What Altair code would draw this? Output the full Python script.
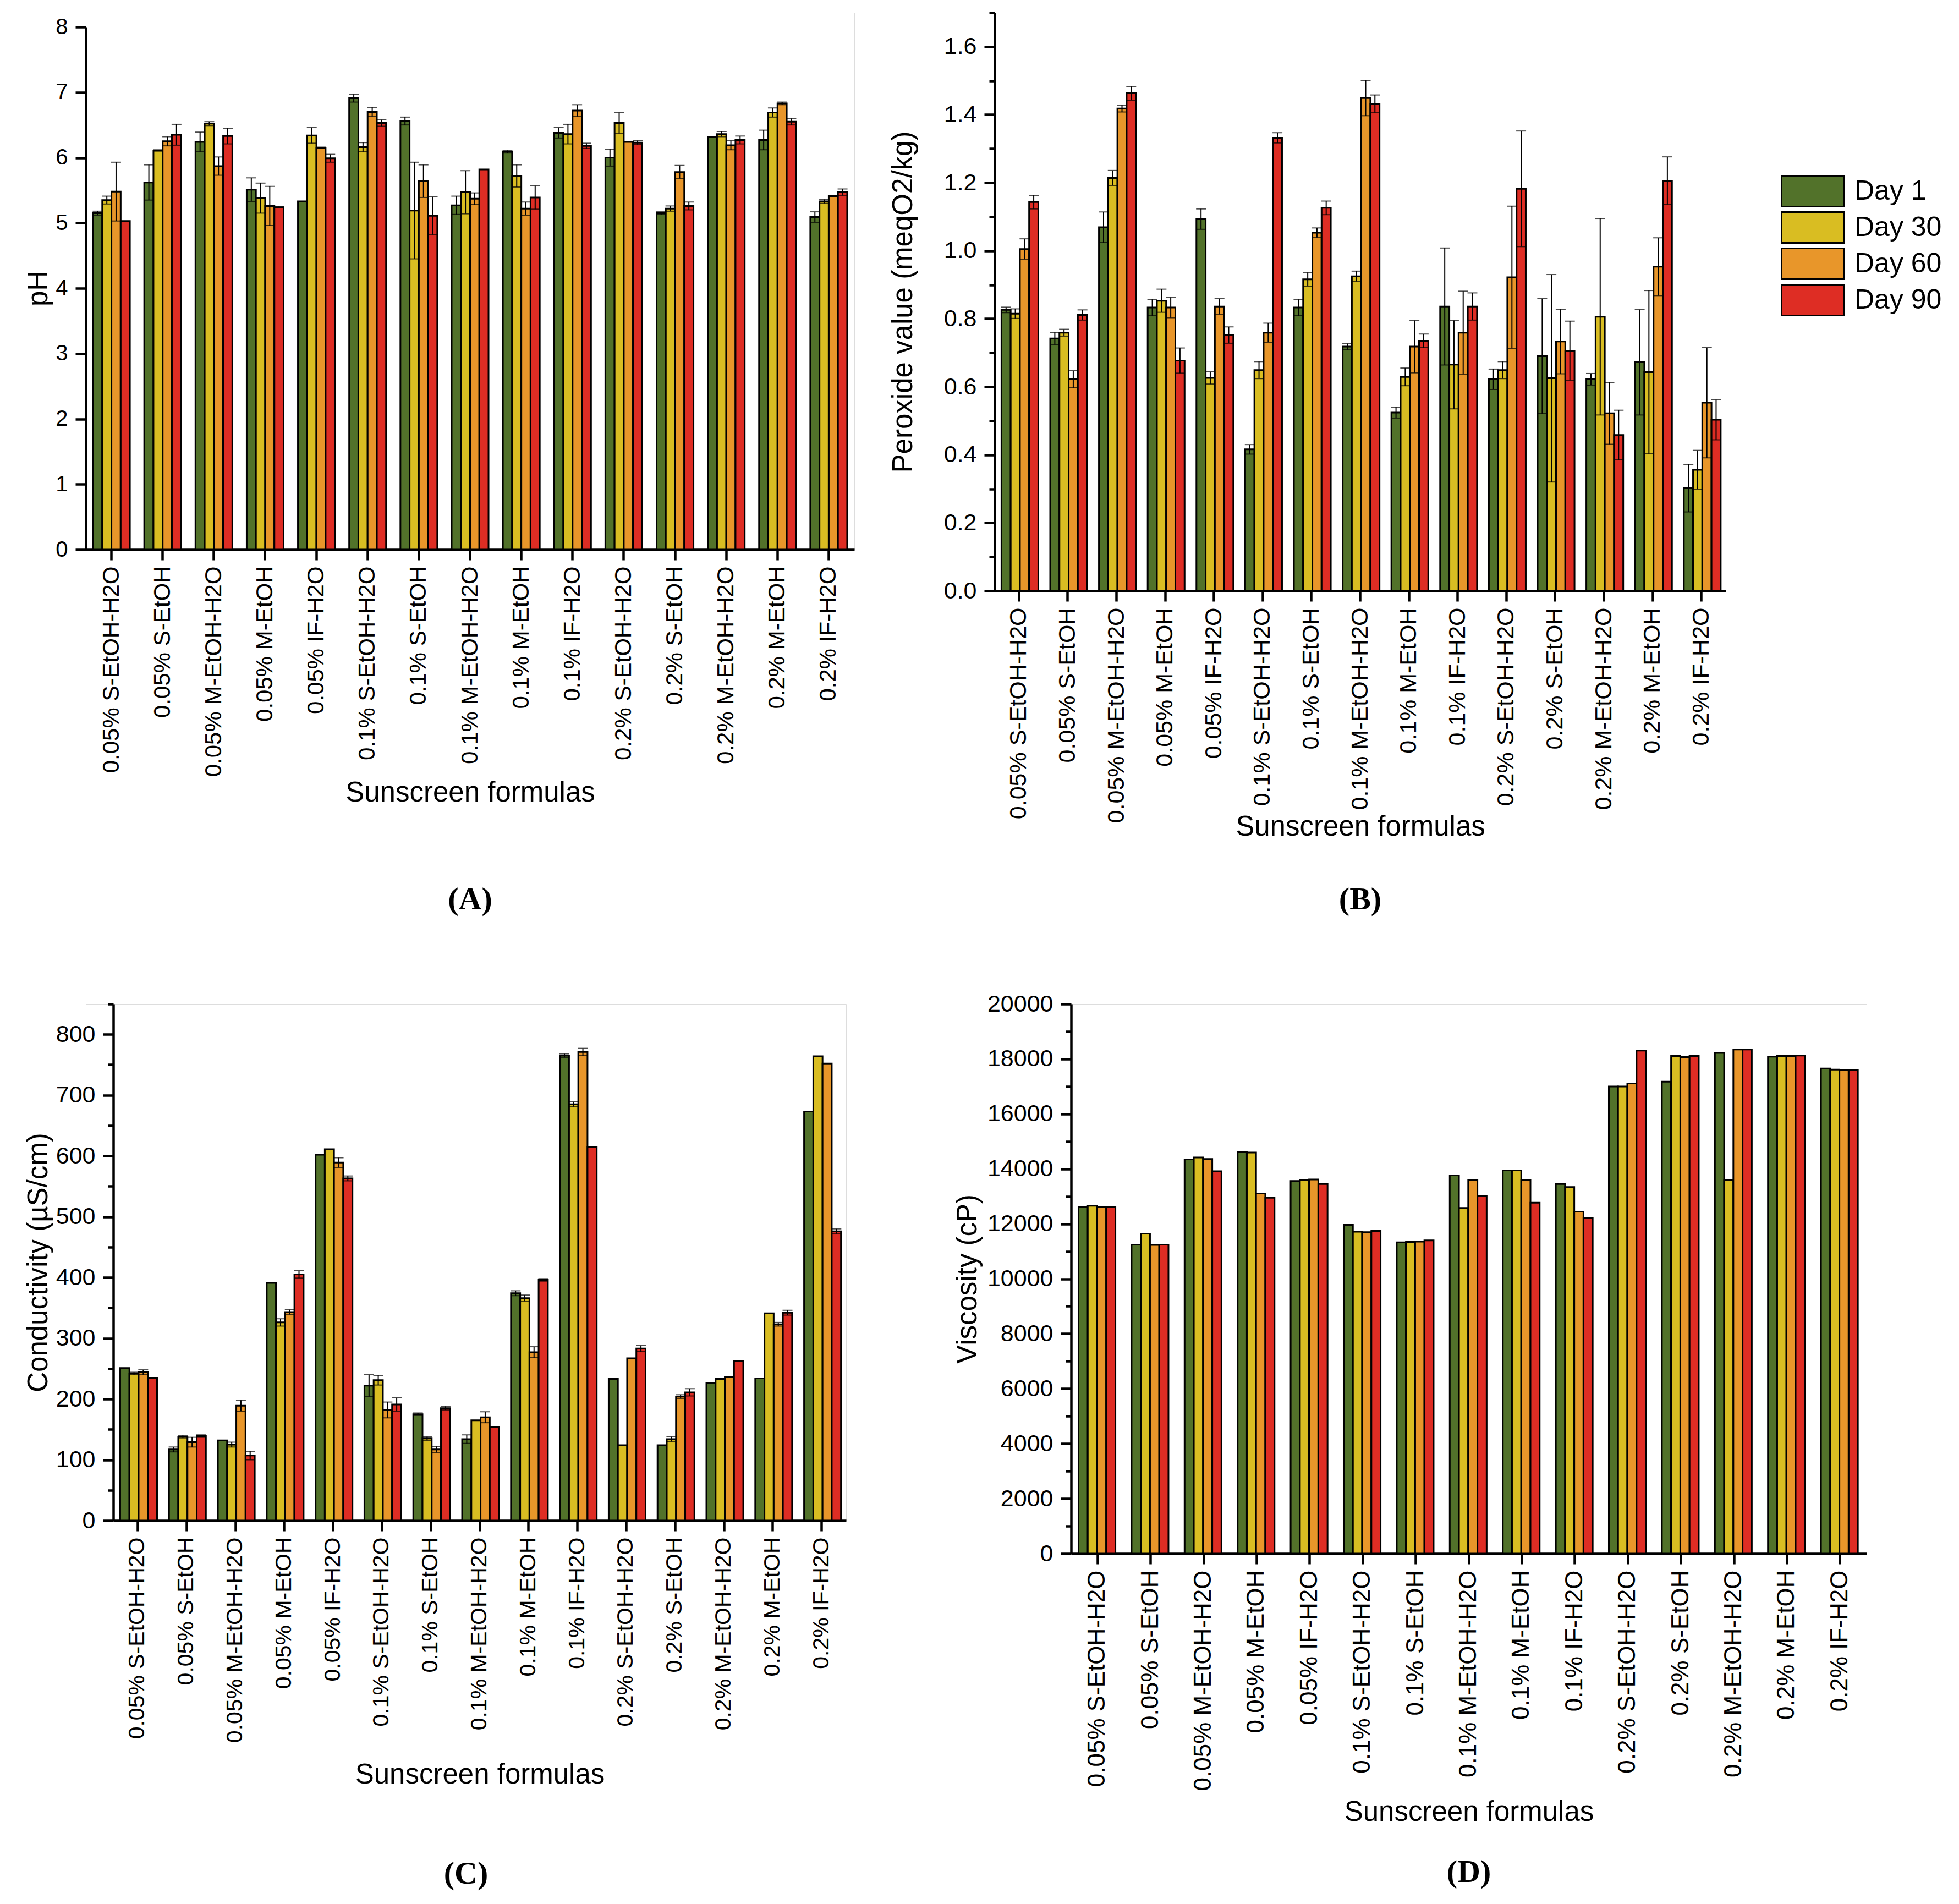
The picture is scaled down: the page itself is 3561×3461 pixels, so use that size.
import altair as alt
import pandas as pd

# -----------------------------------------------------------------------------
# DATA
# -----------------------------------------------------------------------------

formulas = [
    "0.05% S-EtOH-H2O", "0.05% S-EtOH", "0.05% M-EtOH-H2O", "0.05% M-EtOH", "0.05% IF-H2O",
    "0.1% S-EtOH-H2O", "0.1% S-EtOH", "0.1% M-EtOH-H2O", "0.1% M-EtOH", "0.1% IF-H2O",
    "0.2% S-EtOH-H2O", "0.2% S-EtOH", "0.2% M-EtOH-H2O", "0.2% M-EtOH", "0.2% IF-H2O",
]
days = ["Day 1", "Day 30", "Day 60", "Day 90"]
day_colors = ["#52722a", "#d9bd22", "#e8962a", "#de2d24"]

# (A) pH
ph_day1 = [5.15, 5.62, 6.24, 5.51, 5.33, 6.91, 6.56, 5.27, 6.09, 6.38, 6.00, 5.15, 6.32, 6.27, 5.09]
ph_day30 = [5.35, 6.11, 6.52, 5.38, 6.34, 6.16, 5.19, 5.47, 5.72, 6.36, 6.53, 5.22, 6.36, 6.69, 5.33]
ph_day60 = [5.48, 6.25, 5.87, 5.26, 6.15, 6.70, 5.64, 5.37, 5.22, 6.72, 6.24, 5.78, 6.19, 6.83, 5.41]
ph_day90 = [5.03, 6.35, 6.33, 5.24, 5.99, 6.53, 5.11, 5.82, 5.39, 6.18, 6.23, 5.26, 6.27, 6.55, 5.47]
ph_err1 = [0.03, 0.27, 0.15, 0.18, 0.0, 0.06, 0.06, 0.14, 0.02, 0.08, 0.13, 0.02, 0.0, 0.15, 0.08]
ph_err30 = [0.06, 0.01, 0.03, 0.23, 0.12, 0.07, 0.74, 0.33, 0.17, 0.15, 0.16, 0.04, 0.04, 0.07, 0.03]
ph_err60 = [0.45, 0.07, 0.14, 0.30, 0.01, 0.07, 0.25, 0.09, 0.10, 0.09, 0.0, 0.10, 0.07, 0.02, 0.0]
ph_err90 = [0.0, 0.16, 0.12, 0.01, 0.06, 0.05, 0.29, 0.0, 0.18, 0.04, 0.03, 0.06, 0.06, 0.05, 0.05]

# (B) peroxide value
pv_day1 = [0.826, 0.742, 1.069, 0.833, 1.093, 0.416, 0.833, 0.718, 0.524, 0.836, 0.622, 0.690, 0.622, 0.672, 0.302]
pv_day30 = [0.815, 0.759, 1.214, 0.853, 0.626, 0.649, 0.916, 0.925, 0.629, 0.665, 0.649, 0.625, 0.806, 0.643, 0.356]
pv_day60 = [1.005, 0.622, 1.418, 0.833, 0.836, 0.759, 1.053, 1.449, 0.718, 0.759, 0.922, 0.733, 0.522, 0.953, 0.553]
pv_day90 = [1.143, 0.811, 1.463, 0.677, 0.752, 1.332, 1.126, 1.432, 0.735, 0.836, 1.182, 0.706, 0.458, 1.206, 0.503]
pv_err1 = [0.008, 0.018, 0.045, 0.024, 0.030, 0.014, 0.024, 0.009, 0.016, 0.172, 0.030, 0.169, 0.017, 0.155, 0.070]
pv_err30 = [0.014, 0.010, 0.022, 0.034, 0.018, 0.025, 0.020, 0.015, 0.026, 0.130, 0.025, 0.305, 0.289, 0.240, 0.057]
pv_err60 = [0.030, 0.025, 0.010, 0.030, 0.023, 0.028, 0.014, 0.052, 0.077, 0.122, 0.209, 0.095, 0.091, 0.085, 0.162]
pv_err90 = [0.020, 0.015, 0.020, 0.037, 0.024, 0.015, 0.020, 0.026, 0.020, 0.040, 0.170, 0.087, 0.073, 0.070, 0.059]

# (C) conductivity
ec_day1 = [251, 117, 132, 391, 602, 222, 175, 134, 374, 765, 233, 124, 226, 234, 673]
ec_day30 = [242, 138, 125, 326, 611, 231, 135, 165, 366, 685, 124, 134, 233, 341, 764]
ec_day60 = [244, 129, 189, 343, 589, 182, 117, 170, 277, 771, 267, 204, 236, 323, 752]
ec_day90 = [235, 139, 107, 405, 563, 191, 185, 154, 396, 615, 283, 211, 262, 342, 476]
ec_err1 = [0, 4, 0, 0, 0, 18, 2, 7, 4, 3, 0, 0, 0, 0, 0]
ec_err30 = [2, 2, 4, 6, 0, 8, 3, 0, 5, 4, 0, 4, 0, 0, 0]
ec_err60 = [4, 8, 9, 4, 8, 13, 5, 9, 9, 6, 0, 3, 0, 3, 0]
ec_err90 = [0, 2, 7, 6, 4, 11, 3, 0, 2, 0, 5, 6, 0, 4, 4]

# (D) viscosity
vis_day1 = [12620, 11240, 14345, 14620, 13560, 11960, 11325, 13765, 13945, 13450, 16995, 17170, 18220, 18085, 17655]
vis_day30 = [12660, 11640, 14415, 14595, 13585, 11710, 11340, 12580, 13945, 13340, 16995, 18110, 13600, 18110, 17615]
vis_day60 = [12620, 11230, 14360, 13105, 13615, 11695, 11350, 13600, 13600, 12440, 17105, 18070, 18345, 18110, 17600]
vis_day90 = [12620, 11240, 13915, 12950, 13450, 11740, 11395, 13020, 12770, 12220, 18305, 18110, 18345, 18125, 17600]
vis_err = [0] * 15

# axis ticks (major ones get a label)
ph_ticks = [i * 0.5 for i in range(17)]
pv_ticks = [round(i * 0.1, 1) for i in range(18)]
ec_ticks = [i * 50 for i in range(18)]
vis_ticks = [i * 1000 for i in range(21)]

FONT = "Liberation Sans"


def long_table(series, errors):
    rows = []
    for day, vals, errs in zip(days, series, errors):
        for f, v, e in zip(formulas, vals, errs):
            rows.append({"formula": f, "day": day, "value": v, "err": e, "lo": v - e, "hi": v + e})
    return pd.DataFrame(rows)


def panel(df, y_title, domain, ticks, major_test, fmt, width, height, extent, title_pad,
          ylabel_size, xlabel_size, x_extent, letter, letter_offset,
          left_gap=0, top_gap=0, legend=None):
    # left_gap / top_gap leave empty room inside the view so panels that share
    # a grid origin can still sit where they sit in the original figure
    x_axis = alt.Axis(
        labelAngle=-90, labelFontSize=xlabel_size, labelFont=FONT, labelColor="black",
        labelLimit=0, titleFontSize=51, titleFont=FONT, titleFontWeight="normal",
        titleColor="black", titlePadding=0, minExtent=x_extent, maxExtent=x_extent,
        domainWidth=4.5, domainColor="black", tickColor="black", tickWidth=4.5,
        tickSize=19, labelPadding=11, grid=False,
    )
    y_axis = alt.Axis(
        values=ticks, format=fmt,
        labelExpr=f"({major_test}) ? datum.label : ''",
        tickSize={"condition": {"test": major_test, "value": 19}, "value": 10},
        labelFontSize=ylabel_size, labelFont=FONT, labelColor="black", labelPadding=14,
        titleFontSize=51, titleFont=FONT, titleFontWeight="normal", titleColor="black",
        titlePadding=title_pad, minExtent=extent, maxExtent=extent, offset=-left_gap,
        domainWidth=4.5, domainColor="black", tickColor="black", tickWidth=4.5, grid=False,
    )
    x = alt.X("formula:N", sort=formulas, title="Sunscreen formulas", axis=x_axis,
              scale=alt.Scale(paddingInner=0.28, paddingOuter=0.14,
                              range=[left_gap, left_gap + width]))
    xo = alt.XOffset("day:N", sort=days, scale=alt.Scale(domain=days))
    yscale = alt.Scale(domain=domain, nice=False, zero=True,
                       range=[top_gap + height, top_gap])
    y_kw = dict(title=y_title, scale=yscale, axis=y_axis)

    bars = alt.Chart(df).mark_bar(stroke="black", strokeWidth=3, opacity=1).encode(
        x=x,
        xOffset=xo,
        y=alt.Y("value:Q", **y_kw),
        color=alt.Color("day:N", sort=days, scale=alt.Scale(domain=days, range=day_colors),
                        legend=legend),
    )
    layers = [bars]

    err_df = df[df["err"] > 0]
    if len(err_df):
        rule = alt.Chart(err_df).mark_rule(color="black", strokeWidth=2).encode(
            x=x, xOffset=xo, y=alt.Y("lo:Q", **y_kw), y2="hi:Q",
        )
        cap_hi = alt.Chart(err_df).mark_tick(color="black", thickness=2, size=18).encode(
            x=x, xOffset=xo, y=alt.Y("hi:Q", **y_kw),
        )
        cap_lo = alt.Chart(err_df).mark_tick(color="black", thickness=2, size=18).encode(
            x=x, xOffset=xo, y=alt.Y("lo:Q", **y_kw),
        )
        layers += [rule, cap_hi, cap_lo]

    return alt.layer(*layers).properties(
        width=left_gap + width, height=top_gap + height,
        title=alt.TitleParams(text=letter, orient="bottom", anchor="middle",
                              font="Liberation Serif", fontSize=58, fontWeight="bold",
                              color="black", offset=letter_offset),
    )


ph_df = long_table([ph_day1, ph_day30, ph_day60, ph_day90], [ph_err1, ph_err30, ph_err60, ph_err90])
pv_df = long_table([pv_day1, pv_day30, pv_day60, pv_day90], [pv_err1, pv_err30, pv_err60, pv_err90])
ec_df = long_table([ec_day1, ec_day30, ec_day60, ec_day90], [ec_err1, ec_err30, ec_err60, ec_err90])
vis_df = long_table([vis_day1, vis_day30, vis_day60, vis_day90], [vis_err] * 4)

# wide rectangular key: the path reaches past the unit box so rows stay compact
legend = alt.Legend(
    orient="none", legendX=1456, legendY=293, title=None,
    labelFontSize=50, labelFont=FONT, labelColor="black", labelOffset=44,
    symbolType="M-1.9,-0.93H1.9V0.93H-1.9Z", symbolSize=3600, symbolStrokeColor="black",
    symbolStrokeWidth=3, symbolOpacity=1, rowPadding=-6, padding=0,
)

chart_a = panel(ph_df, "pH", [0, 8], ph_ticks, "datum.value % 1 === 0", "d",
                1397, 950, 54, 6, 40, 42, 417, "(A)", 141, top_gap=26)
chart_b = panel(pv_df, "Peroxide value (meqO2/kg)", [0, 1.7], pv_ticks,
                "round(datum.value * 10) % 2 === 0", ".1f",
                1329, 1051, 87, 53, 43, 43, 404, "(B)", 79, legend=legend)
chart_c = panel(ec_df, "Conductivity (µS/cm)", [0, 850], ec_ticks, "datum.value % 100 === 0", "d",
                1332, 939, 100, 10, 43, 41, 437, "(C)", 127, left_gap=50)
chart_d = panel(vis_df, "Viscosity (cP)", [0, 20000], vis_ticks, "datum.value % 2000 === 0", "d",
                1446, 999, 152, 10, 43, 44, 445, "(D)", 56)

top = alt.hconcat(chart_a, chart_b, spacing=61).resolve_scale(color="independent")
bottom = alt.hconcat(chart_c, chart_d, spacing=193).resolve_scale(color="independent")

chart = alt.vconcat(top, bottom, spacing=137).resolve_scale(
    color="independent"
).properties(
    padding={"left": 35, "top": 12, "right": 10, "bottom": 10},
).configure_view(stroke=None).configure(background="white")

chart.save("out.html", embed_options={"renderer": "svg", "actions": False})
